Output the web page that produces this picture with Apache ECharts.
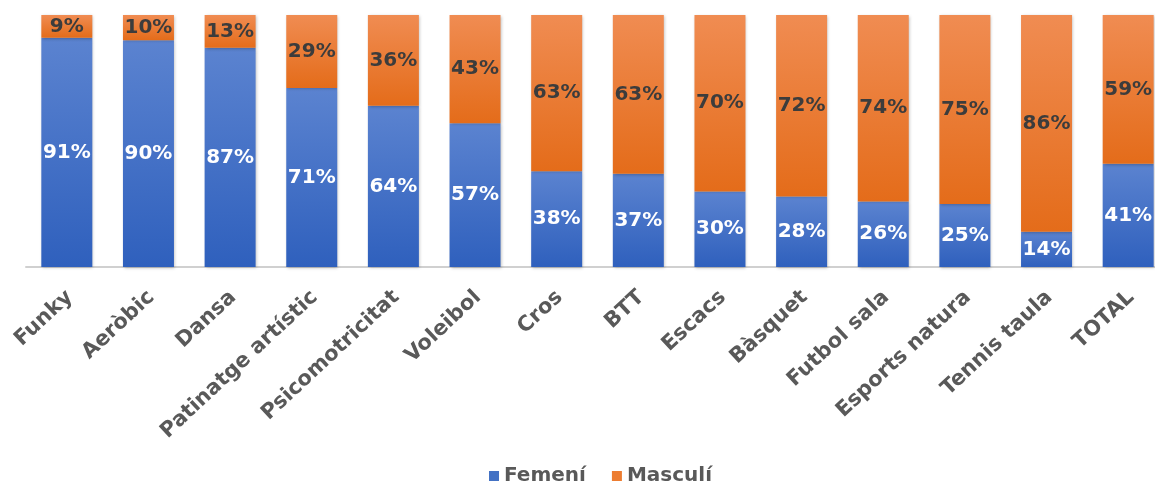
<!DOCTYPE html>
<html lang="ca">
<head>
    <meta charset="utf-8">
    <title>Femení / Masculí</title>
    <script type="text/javascript" src="https://cdn.jsdelivr.net/npm/echarts/dist/echarts.min.js"></script>
    <style>
        html, body { margin: 0; padding: 0; background: #fff; }
    </style>
</head>
<body>
    <div id="chart" style="width: 1155px; height: 485px;"></div>

    <script type="text/javascript" charset="utf-8">
        var categories = ['Funky', 'Aeròbic', 'Dansa', 'Patinatge artístic', 'Psicomotricitat', 'Voleibol', 'Cros', 'BTT', 'Escacs', 'Bàsquet', 'Futbol sala', 'Esports natura', 'Tennis taula', 'TOTAL'];
        var femeni = [91, 90, 87, 71, 64, 57, 38, 37, 30, 28, 26, 25, 14, 41];
        var masculi = [9, 10, 13, 29, 36, 43, 63, 63, 70, 72, 74, 75, 86, 59];

        var fontFam = '"DejaVu Sans", "Liberation Sans", Arial, sans-serif';

        function grad(top, bottom) {
            return new echarts.graphic.LinearGradient(0, 0, 0, 1, [
                { offset: 0, color: top },
                { offset: 1, color: bottom }
            ]);
        }

        var myChart = echarts.init(document.getElementById('chart'));
        myChart.setOption({
            animation: false,
            grid: {
                left: 26,
                top: 15,
                width: 1143,
                height: 252,
                outerBoundsMode: 'none',
                containLabel: false
            },
            legend: {
                left: 484,
                top: 461,
                icon: 'rect',
                itemWidth: 10,
                itemHeight: 10,
                itemGap: 26,
                textStyle: {
                    fontFamily: fontFam,
                    fontWeight: 'bold',
                    fontSize: 20,
                    color: '#595959'
                },
                data: [
                    { name: 'Femení', itemStyle: { color: '#4472c4' } },
                    { name: 'Masculí', itemStyle: { color: '#ed7d31' } }
                ]
            },
            xAxis: {
                type: 'category',
                data: categories,
                axisLine: { lineStyle: { color: '#d0d0d0', width: 2 } },
                axisTick: { show: false },
                axisLabel: {
                    rotate: 43,
                    margin: 30,
                    padding: [0, -4, 0, 0],
                    interval: 0,
                    fontFamily: fontFam,
                    fontWeight: 'bold',
                    fontSize: 21,
                    color: '#595959'
                }
            },
            yAxis: {
                type: 'value',
                min: 0,
                max: 100,
                show: false
            },
            series: [{
                name: 'Femení',
                type: 'bar',
                stack: 'total',
                barWidth: 51,
                data: femeni,
                itemStyle: {
                    color: grad('#5b83d0', '#2f60bd'),
                    shadowColor: 'rgba(0,0,0,0.25)',
                    shadowBlur: 3,
                    shadowOffsetX: 1,
                    shadowOffsetY: 1
                },
                label: {
                    show: true,
                    position: 'inside',
                    formatter: '{c}%',
                    fontFamily: fontFam,
                    fontWeight: 'bold',
                    fontSize: 20,
                    color: '#ffffff'
                }
            }, {
                name: 'Masculí',
                type: 'bar',
                stack: 'total',
                barWidth: 51,
                data: masculi,
                itemStyle: {
                    color: grad('#f08c52', '#e46c1a'),
                    shadowColor: 'rgba(0,0,0,0.25)',
                    shadowBlur: 3,
                    shadowOffsetX: 1,
                    shadowOffsetY: 1
                },
                label: {
                    show: true,
                    position: 'inside',
                    formatter: '{c}%',
                    fontFamily: fontFam,
                    fontWeight: 'bold',
                    fontSize: 20,
                    color: '#3c3c3c'
                }
            }]
        });
    </script>
</body>
</html>
